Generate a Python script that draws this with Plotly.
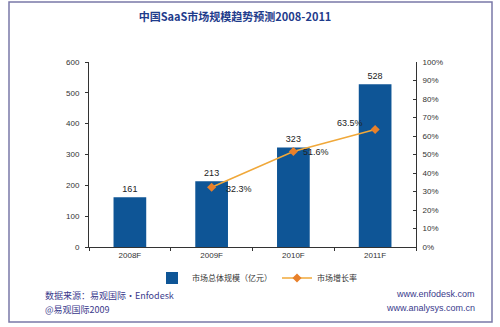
import plotly.graph_objects as go

categories = ["2008F", "2009F", "2010F", "2011F"]
market_size = [161, 213, 323, 528]
growth_rate = [None, 0.323, 0.516, 0.635]
growth_labels = ["", "32.3%", "51.6%", "63.5%"]
left_ticks = [0, 100, 200, 300, 400, 500, 600]

FONT = "Liberation Sans, Arial, Noto Sans CJK SC"
CJK = "Noto Sans CJK SC, Liberation Sans"

fig = go.Figure()
fig.add_trace(go.Bar(
    x=categories, y=market_size, name="市场总体规模（亿元）",
    marker=dict(color="#0E5596", line=dict(width=0)), width=0.4,
    text=[str(v) for v in market_size], textposition="outside",
    textfont=dict(size=9, color="#222222", family=FONT), cliponaxis=False,
))
fig.add_trace(go.Scatter(
    x=categories, y=growth_rate, name="市场增长率", yaxis="y2",
    mode="lines+markers",
    line=dict(color="#F0A83A", width=1.5),
    marker=dict(symbol="diamond", size=7, color="#E8802A"),
    cliponaxis=False,
))

W, H = 500, 327
L, R, T, B = 89, 416, 62, 247
pw, ph = R - L, B - T
def px(x): return (x - L) / pw
def py(y): return (B - y) / ph

# label offsets (styling) for growth-rate labels
label_style = {
    "32.3%": dict(xanchor="left", xshift=12, yshift=-2),
    "51.6%": dict(xanchor="left", xshift=8, yshift=0),
    "63.5%": dict(xanchor="right", xshift=-10, yshift=7),
}
annotations = []
for c, v, t in zip(categories, growth_rate, growth_labels):
    if v is None or not t:
        continue
    annotations.append(dict(text=t, x=c, y=v, xref="x", yref="y2", showarrow=False,
                            yanchor="middle", font=dict(size=9, color="#222222", family=FONT),
                            **label_style[t]))

annotations += [
    dict(text="数据来源：易观国际·Enfodesk", xref="paper", yref="paper",
         x=px(43), y=py(295), xanchor="left", yanchor="middle", showarrow=False,
         font=dict(family=CJK, size=9, color="#3A3A8C")),
    dict(text="@易观国际2009", xref="paper", yref="paper",
         x=px(43), y=py(309), xanchor="left", yanchor="middle", showarrow=False,
         font=dict(family=CJK, size=9, color="#3A3A8C")),
    dict(text="www.enfodesk.com", xref="paper", yref="paper",
         x=px(477), y=py(294), xanchor="right", yanchor="middle", showarrow=False,
         font=dict(family=FONT, size=9, color="#3A3A8C")),
    dict(text="www.analysys.com.cn", xref="paper", yref="paper",
         x=px(477), y=py(308), xanchor="right", yanchor="middle", showarrow=False,
         font=dict(family=FONT, size=9, color="#3A3A8C")),
]

fig.update_layout(
    width=W, height=H,
    margin=dict(l=L, r=W - R, t=T, b=H - B),
    paper_bgcolor="white", plot_bgcolor="white",
    font=dict(family=FONT, size=8, color="#333333"),
    title=dict(text="<b>中国SaaS市场规模趋势预测2008-2011</b>", x=0.47, xanchor="center",
               y=1 - 17 / H, yanchor="middle",
               font=dict(family=CJK, size=11, color="#1F3C8C")),
    xaxis=dict(showline=True, linecolor="#333333", linewidth=1, ticks="outside",
               tickson="boundaries", ticklen=3, tickcolor="#333333",
               tickfont=dict(size=8, color="#333333", family=FONT), showgrid=False),
    yaxis=dict(range=[0, 600], tickvals=left_ticks, showline=True, linecolor="#333333",
               ticks="outside", ticklen=3, tickcolor="#333333", showgrid=False,
               zeroline=False, ticklabelstandoff=4,
               tickfont=dict(size=8, color="#333333", family=FONT)),
    yaxis2=dict(range=[0, 1], dtick=0.1, tickformat=".0%", overlaying="y", side="right",
                showline=True, linecolor="#333333", ticks="inside", ticklen=3,
                tickcolor="#333333", showgrid=False, zeroline=False, ticklabelstandoff=4,
                tickfont=dict(size=8, color="#333333", family=FONT)),
    bargap=0.6,
    showlegend=True,
    legend=dict(orientation="h", x=px(152), xanchor="left", y=py(278), yanchor="middle",
                font=dict(family=CJK, size=8, color="#333333"), itemwidth=30,
                bgcolor="rgba(0,0,0,0)", tracegroupgap=0),
    shapes=[dict(type="rect", xref="paper", yref="paper",
                 x0=px(9), x1=px(492), y0=py(322), y1=py(2),
                 line=dict(color="#7A78A8", width=1.5), layer="below")],
    annotations=annotations,
)

fig.write_html("out.html")
